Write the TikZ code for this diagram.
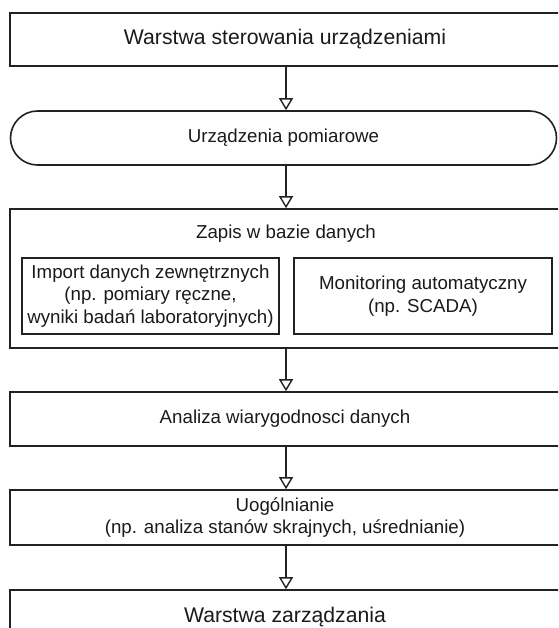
\documentclass[tikz,border=0pt]{standalone}
\usepackage{fontspec}
\setmainfont{Liberation Sans}
\usetikzlibrary{arrows.meta}
\definecolor{linec}{HTML}{222222}
\definecolor{textc}{HTML}{1A1A1A}
\begin{document}
\begin{tikzpicture}[x=1pt,y=-1pt,
  box/.style={draw=linec, line width=1.6pt, inner sep=0pt, text=textc, align=center,
    font=\fontsize{18.7pt}{22.5pt}\selectfont},
  bigtext/.style={font=\fontsize{21.2pt}{25pt}\selectfont},
  plain/.style={inner sep=0pt, text=textc, align=center, font=\fontsize{18.7pt}{22.5pt}\selectfont},
  arr/.style={draw=linec, line width=1.4pt, -{Triangle[open, width=14pt, length=12pt, line width=1.4pt]}}]
\useasboundingbox (0,0) rectangle (558,628);
\clip (0,0) rectangle (558,628);
\fill[white] (0,0) rectangle (558,628);
\coordinate (ax) at (286,0);
% top layer
\node[box, bigtext, minimum width=550pt, minimum height=53pt] (top) at (285,39.5) {Warstwa sterowania urządzeniami};
% measuring devices
\node[box, rounded corners=27pt, minimum width=546pt, minimum height=54pt] (pom) at (283.5,138) {Urządzenia pomiarowe};
% database record
\node[box, minimum width=550pt, minimum height=139pt] (zapis) at (285,278.5) {};
\node[plain] (zt) at (286,234) {Zapis w bazie danych};
\node[box, minimum width=257pt, minimum height=76pt] (imp) at (150.5,296) {Import danych zewnętrznych\\(np. pomiary ręczne,\\wyniki badań laboratoryjnych)};
\node[box, minimum width=258pt, minimum height=76pt] (mon) at (423,296) {Monitoring automatyczny\\(np. SCADA)};
% analysis
\node[box, minimum width=550pt, minimum height=54pt] (anal) at (285,419) {Analiza wiarygodnosci danych};
% generalisation
\node[box, minimum width=550pt, minimum height=55pt] (uog) at (285,517.5) {Uogólnianie\\(np. analiza stanów skrajnych, uśrednianie)};
% management layer
\node[box, bigtext, minimum width=550pt, minimum height=54pt] (zarz) at (285,617) {Warstwa zarządzania};
% arrows
\draw[arr] (top.south -| ax) -- (pom.north -| ax);
\draw[arr] (pom.south -| ax) -- (zapis.north -| ax);
\draw[arr] (zapis.south -| ax) -- (anal.north -| ax);
\draw[arr] (anal.south -| ax) -- (uog.north -| ax);
\draw[arr] (uog.south -| ax) -- (zarz.north -| ax);
\end{tikzpicture}
\end{document}
